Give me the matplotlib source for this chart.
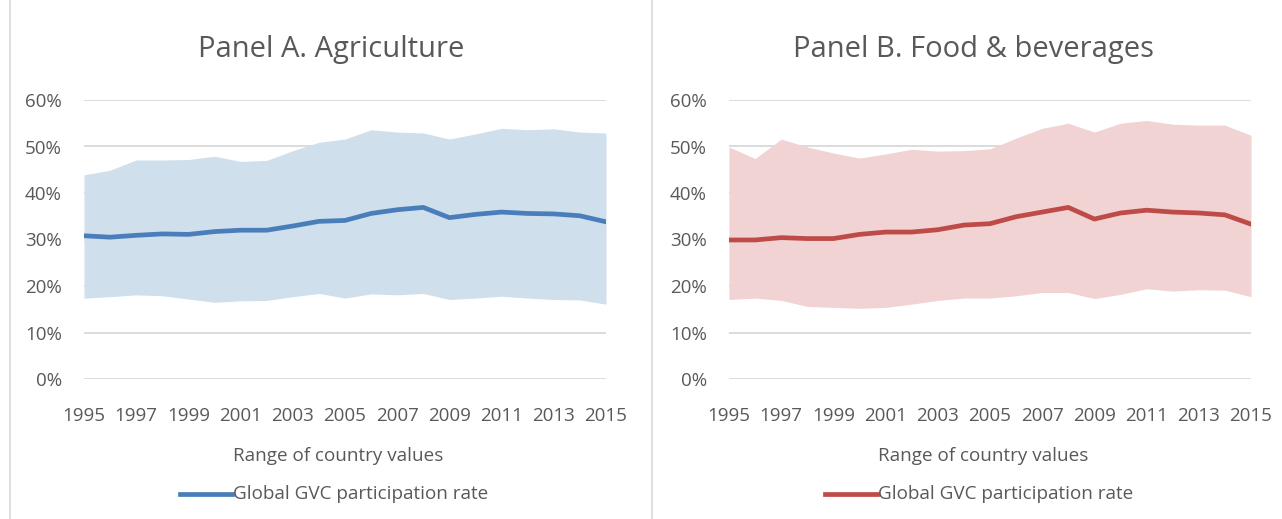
import numpy as np
import matplotlib.pyplot as plt
from matplotlib.lines import Line2D
from matplotlib.ticker import PercentFormatter

plt.rcParams['font.family'] = ['Open Sans', 'DejaVu Sans']

years = np.arange(1995, 2016)

# Panel A. Agriculture (percent)
agri_low = [17.4, 17.7, 18.1, 17.9, 17.2, 16.5, 16.8, 16.9, 17.7, 18.4, 17.4,
            18.3, 18.1, 18.4, 17.1, 17.4, 17.8, 17.4, 17.1, 17.0, 16.1]
agri_high = [43.9, 44.9, 47.1, 47.1, 47.2, 47.9, 46.8, 47.0, 49.1, 50.9, 51.6,
             53.6, 53.1, 52.9, 51.6, 52.7, 53.9, 53.6, 53.8, 53.1, 52.9]
agri_rate = [30.8, 30.5, 30.9, 31.2, 31.1, 31.7, 32.0, 32.0, 32.9, 33.9, 34.1,
             35.6, 36.4, 36.9, 34.7, 35.4, 35.9, 35.6, 35.5, 35.1, 33.8]

# Panel B. Food & beverages (percent)
food_low = [17.1, 17.4, 16.9, 15.6, 15.4, 15.2, 15.4, 16.1, 16.9, 17.4, 17.4,
            17.9, 18.6, 18.6, 17.3, 18.2, 19.4, 18.9, 19.2, 19.1, 17.7]
food_high = [49.9, 47.4, 51.6, 49.9, 48.6, 47.5, 48.4, 49.4, 49.0, 49.1, 49.5,
             51.8, 53.9, 55.0, 53.1, 55.0, 55.6, 54.8, 54.6, 54.6, 52.4]
food_rate = [29.9, 29.9, 30.4, 30.2, 30.2, 31.1, 31.6, 31.6, 32.1, 33.1, 33.4,
             34.9, 35.9, 36.9, 34.4, 35.7, 36.3, 35.9, 35.7, 35.3, 33.3]

titles = ['Panel A. Agriculture', 'Panel B. Food & beverages']
line_colors = ['#4A7EBB', '#BE4B48']
fill_colors = ['#D0DFEC', '#F0D3D2']

W, H = 1282, 519
TXT = '#595959'
GRID = '#D9D9D9'

fig = plt.figure(figsize=(W / 100, H / 100), dpi=100)

panels = [(agri_low, agri_high, agri_rate), (food_low, food_high, food_rate)]
plot_x = [(84, 606), (729, 1251)]
panel_x = [(10, 652), (652, 1294)]

for i, (low, high, rate) in enumerate(panels):
    x0, x1 = plot_x[i]
    ax = fig.add_axes([x0 / W, (H - 379) / H, (x1 - x0) / W, 279 / H])
    ax.fill_between(years, low, high, color=fill_colors[i], lw=0, zorder=2)
    ax.plot(years, rate, color=line_colors[i], lw=3.4, zorder=3,
            solid_joinstyle='round')
    ax.set_xlim(1995, 2015)
    ax.set_ylim(0, 60)
    ax.set_yticks(range(0, 61, 10))
    ax.yaxis.set_major_formatter(PercentFormatter(decimals=0))
    ax.set_xticks(years[::2])
    ax.grid(axis='y', color=GRID, lw=1.3, zorder=1)
    ax.set_axisbelow(True)
    for s in ax.spines.values():
        s.set_visible(False)
    ax.tick_params(axis='both', length=0, labelsize=13.5, labelcolor=TXT)
    ax.tick_params(axis='y', pad=16)
    ax.tick_params(axis='x', pad=20)

    px0, px1 = panel_x[i]
    cx = (px0 + px1) / 2 / W
    fig.text(cx, 1 - 50 / H, titles[i], ha='center', va='center',
             fontsize=21, color=TXT)
    fig.add_artist(Line2D([px0 / W, px0 / W], [0, 1], color=GRID, lw=1.2))

    # legend
    lx = x0 + 254
    fig.text(lx / W, 1 - 456 / H, 'Range of country values', ha='center',
             va='center', fontsize=13.6, color=TXT)
    sx0 = x0 + 96
    fig.add_artist(Line2D([sx0 / W, (sx0 + 52) / W], [1 - 494 / H] * 2,
                          color=line_colors[i], lw=3.4))
    fig.text((sx0 + 53) / W, 1 - 494 / H, 'Global GVC participation rate',
             ha='left', va='center', fontsize=13.6, color=TXT)

fig.savefig('out.png', dpi=100, facecolor='white')
